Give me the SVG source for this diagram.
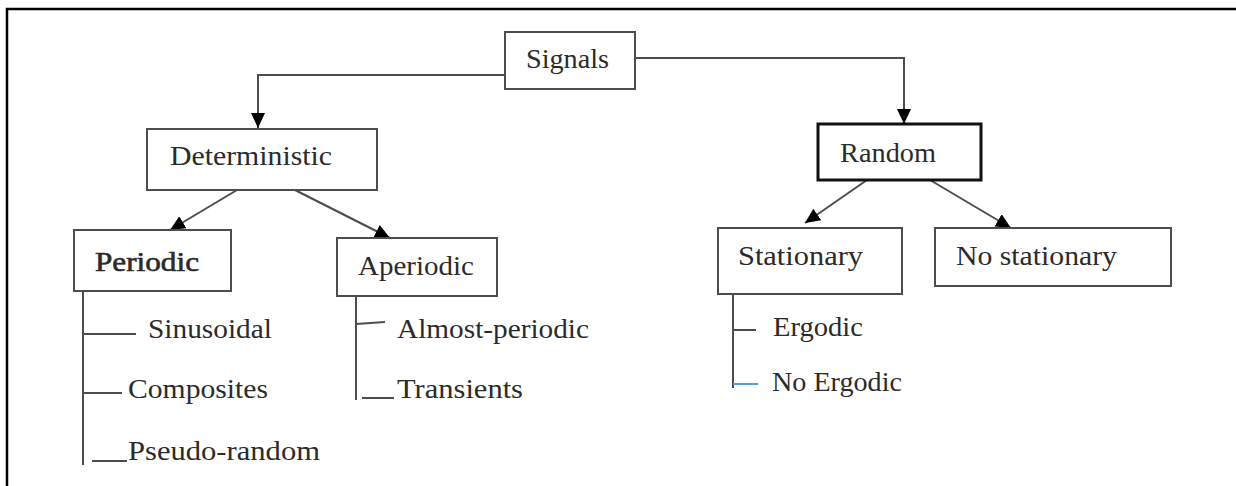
<svg xmlns="http://www.w3.org/2000/svg" width="1236" height="486" viewBox="0 0 1236 486">
<style>
  .box { fill: #fff; stroke: #4d4d4d; stroke-width: 2; }
  .boxb { fill: #fff; stroke: #111; stroke-width: 3; }
  .t { font-family: "Liberation Serif", "Times New Roman", serif; font-size: 27px; fill: #2b2b2b; }
  .tr { font-family: "Liberation Serif", "Times New Roman", serif; font-size: 27px; fill: #2b2b2b; }
  .bold { stroke: #2b2b2b; stroke-width: 0.6; }
  .c { fill: none; stroke: #4d4d4d; stroke-width: 2; }
  .arr { marker-end: url(#ah); }
  .frame { fill: none; stroke: #000; stroke-width: 2.5; }
</style>
<defs>
  <marker id="ah" markerUnits="userSpaceOnUse" markerWidth="16" markerHeight="16" viewBox="0 0 16 16" refX="15" refY="8" orient="auto">
    <path d="M0,1 L15,8 L0,15 z" fill="#000"/>
  </marker>
</defs>
<rect width="1236" height="486" fill="#fff"/>
<path class="frame" d="M7,486 V9 H1236"/>

<g id="connectors">
  <path class="c arr" d="M505,75 H258 V128"/>
  <path class="c arr" d="M635,58 H904 V124"/>
  <path class="c arr" d="M237,190 L170,230"/>
  <path class="c arr" d="M295,190 L390,238"/>
  <path class="c arr" d="M867,180 L805,223"/>
  <path class="c arr" d="M930,180 L1011,228"/>
  <path class="c" d="M83,291 V465 M83,334 H136 M83,393 H122 M92,461 H127"/>
  <path class="c" d="M356,292 V400 M356,324 L385,322 M362,398 H394"/>
  <path class="c" d="M733,292 V388 M733,330 H756"/>
  <path d="M733,384 H758" fill="none" stroke="#5b9bd5" stroke-width="2"/>
</g>

<g id="signals">
  <rect class="box" x="505" y="32" width="130" height="57"/>
  <text class="t" x="526" y="68" textLength="83" lengthAdjust="spacingAndGlyphs">Signals</text>
</g>
<g id="deterministic">
  <rect class="box" x="147" y="129" width="230" height="61"/>
  <text class="t" x="170" y="165" textLength="162" lengthAdjust="spacingAndGlyphs">Deterministic</text>
</g>
<g id="random">
  <rect class="boxb" x="818" y="124" width="163" height="56"/>
  <text class="tr" x="840" y="162" textLength="96" lengthAdjust="spacingAndGlyphs">Random</text>
</g>
<g id="periodic">
  <rect class="box" x="74" y="230" width="157" height="61"/>
  <text class="t bold" x="95" y="271" textLength="104" lengthAdjust="spacingAndGlyphs">Periodic</text>
</g>
<g id="aperiodic">
  <rect class="box" x="337" y="238" width="160" height="58"/>
  <text class="t" x="358" y="275" textLength="116" lengthAdjust="spacingAndGlyphs">Aperiodic</text>
</g>
<g id="stationary">
  <rect class="box" x="718" y="228" width="184" height="66"/>
  <text class="t" x="738" y="265" textLength="125" lengthAdjust="spacingAndGlyphs">Stationary</text>
</g>
<g id="no-stationary">
  <rect class="box" x="935" y="228" width="236" height="58"/>
  <text class="t" x="956" y="265" textLength="161" lengthAdjust="spacingAndGlyphs">No stationary</text>
</g>
<g id="sinusoidal"><text class="t" x="148" y="338" textLength="124" lengthAdjust="spacingAndGlyphs">Sinusoidal</text></g>
<g id="composites"><text class="t" x="128" y="398" textLength="140" lengthAdjust="spacingAndGlyphs">Composites</text></g>
<g id="pseudo-random"><text class="t" x="128" y="460" textLength="192" lengthAdjust="spacingAndGlyphs">Pseudo-random</text></g>
<g id="almost-periodic"><text class="t" x="397" y="338" textLength="192" lengthAdjust="spacingAndGlyphs">Almost-periodic</text></g>
<g id="transients"><text class="t" x="397" y="398" textLength="126" lengthAdjust="spacingAndGlyphs">Transients</text></g>
<g id="ergodic"><text class="t" x="773" y="336" textLength="90" lengthAdjust="spacingAndGlyphs">Ergodic</text></g>
<g id="no-ergodic"><text class="t" x="772" y="391" textLength="130" lengthAdjust="spacingAndGlyphs">No Ergodic</text></g>
</svg>
